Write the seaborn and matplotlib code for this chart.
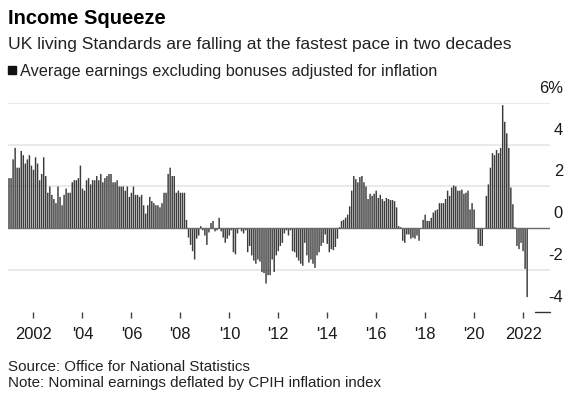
import numpy as np
import pandas as pd
import matplotlib
matplotlib.use("Agg")
import matplotlib.pyplot as plt
import matplotlib.transforms as mtransforms
from matplotlib.patches import Rectangle
import seaborn as sns

y2001 = [2.4, 2.4, 3.3, 3.85, 2.9, 2.9, 3.7, 3.5, 3.1, 3.3, 3.5, 3.0]
y2002 = [2.8, 3.4, 3.1, 2.3, 2.6, 3.4, 2.5, 1.7, 2.0, 1.6, 1.4, 1.2]
y2003 = [2.0, 1.5, 1.1, 1.6, 1.9, 1.7, 1.7, 2.2, 2.3, 2.3, 2.4, 3.0]
y2004 = [1.9, 1.8, 2.3, 2.4, 2.1, 2.3, 2.3, 2.5, 2.3, 2.6, 2.2, 2.4]
y2005 = [2.5, 2.6, 2.6, 2.2, 2.2, 2.3, 2.0, 2.0, 2.0, 1.8, 2.0, 1.5]
y2006 = [1.7, 2.0, 1.6, 1.6, 1.5, 1.6, 1.1, 0.7, 1.1, 1.5, 1.3, 1.2]
y2007 = [1.1, 1.1, 1.0, 1.2, 1.7, 1.7, 2.6, 2.9, 2.5, 2.5, 1.7, 1.8]
y2008 = [1.7, 1.7, 1.7, 0.4, -0.45, -0.8, -1.1, -1.5, -0.5, -0.35, 0.1, -0.1]
y2009 = [-0.35, -0.8, -0.2, 0.25, 0.35, -0.15, -0.1, 0.5, -0.15, -0.45, -0.7, -0.5]
y2010 = [-0.35, -0.1, -1.15, -1.25, -0.25, 0.0, -0.15, -0.25, -0.1, -1.15, -0.85, -1.3]
y2011 = [-1.55, -1.7, -1.5, -1.6, -2.1, -2.15, -2.65, -2.25, -2.25, -1.5, -2.1, -1.3]
y2012 = [-1.1, -0.85, -0.7, -0.25, -0.1, -0.35, -0.1, -1.1, -1.15, -1.4, -1.55, -1.7]
y2013 = [-1.8, -0.7, -1.3, -1.65, -1.5, -1.7, -1.9, -1.3, -1.15, -0.85, -0.7, -0.3]
y2014 = [-0.75, -1.15, -1.0, -1.05, -0.9, -0.5, 0.05, 0.35, 0.4, 0.5, 0.65, 1.05]
y2015 = [1.8, 2.5, 2.35, 2.2, 2.45, 2.5, 2.2, 2.0, 1.4, 1.65, 1.55, 1.65]
y2016 = [1.8, 1.45, 1.6, 1.4, 1.3, 1.45, 1.4, 1.35, 1.35, 1.3, 1.0, 0.1]
y2017 = [0.05, -0.6, -0.7, -0.3, -0.3, -0.5, -0.45, -0.5, -0.35, -0.6, 0.0, 0.4]
y2018 = [0.65, 0.35, 0.35, 0.5, 0.75, 0.85, 0.9, 1.2, 1.2, 1.2, 1.4, 1.8]
y2019 = [1.55, 1.95, 2.05, 2.0, 1.8, 1.8, 1.85, 1.65, 1.7, 1.8, 0.9, 1.2]
y2020 = [0.9, 0.0, -0.75, -0.85, -0.85, 0.0, 1.55, 2.1, 2.9, 3.6, 3.5, 3.75]
y2021 = [3.6, 3.85, 5.9, 5.1, 4.55, 3.85, 1.95, 1.15, 0.05, -0.85, -1.0, -0.7]
y2022 = [-1.1, -1.95, -3.3]

values = (y2001 + y2002 + y2003 + y2004 + y2005 + y2006 + y2007 + y2008 + y2009
          + y2010 + y2011 + y2012 + y2013 + y2014 + y2015 + y2016 + y2017 + y2018
          + y2019 + y2020 + y2021 + y2022)

tick_years = [2002, 2004, 2006, 2008, 2010, 2012, 2014, 2016, 2018, 2020, 2022]
tick_labels = ["2002", "'04", "'06", "'08", "'10", "'12", "'14", "'16", "'18", "'20", "2022"]
y_ticks = [6, 4, 2, 0, -2, -4]
y_labels = ["6%", "4", "2", "0", "-2", "-4"]

start_year = 2001
df = pd.DataFrame({"month": np.arange(len(values)), "value": values})

sns.set_theme(style="white")
plt.rcParams["font.family"] = ["Liberation Sans", "DejaVu Sans"]

W, H = 572, 396
fig = plt.figure(figsize=(W / 100, H / 100), dpi=100)
ax = fig.add_axes([8 / W, 1 - 311.7 / H, 542 / W, 208.7 / H])

for v in y_ticks:
    if v not in (0, -4):
        ax.axhline(v, color="#e4e4e4", lw=1.1, zorder=0)

sns.barplot(data=df, x="month", y="value", native_scale=True, width=0.72,
            color="#3c3c3c", saturation=1, edgecolor="none", linewidth=0,
            errorbar=None, ax=ax, zorder=2)
# no pixel snapping, so the thin bars blend evenly instead of beating
for p in ax.patches:
    p.set_snap(False)

ax.axhline(0, color="#6a6a6a", lw=1.0, zorder=3)
ax.axhline(-4, xmin=0.972, xmax=1.0, color="#333333", lw=1.0, clip_on=False)

ax.set_xlim(-0.5, 265.2)
ax.set_ylim(-4, 6)
for s in ax.spines.values():
    s.set_visible(False)
ax.set_xlabel("")
ax.set_ylabel("")

ax.set_xticks([(y - start_year) * 12 for y in tick_years])
ax.set_xticklabels(tick_labels, fontsize=11.9, color="#1a1a1a")
ax.tick_params(axis="x", direction="out", length=4, width=1, color="#444444",
               pad=7, bottom=True)
ax.set_yticks([])

# right-hand value labels, sitting above their gridlines
trans = mtransforms.blended_transform_factory(ax.transAxes, ax.transData)
trans = mtransforms.offset_copy(trans, fig=fig, x=13, y=10, units="dots")
for v, lab in zip(y_ticks, y_labels):
    ax.text(1.0, v, lab, transform=trans, ha="right", va="baseline",
            fontsize=11.9, color="#1a1a1a")

fig.text(8 / W, 1 - 24 / H, "Income Squeeze", fontsize=14.5, fontweight="bold",
         color="#000000", va="baseline")
fig.text(8 / W, 1 - 49 / H,
         "UK living Standards are falling at the fastest pace in two decades",
         fontsize=12.6, color="#222222", va="baseline")
fig.patches.append(Rectangle((8 / W, 1 - 74 / H), 8 / W, 8 / H,
                             transform=fig.transFigure, color="#111111"))
fig.text(20 / W, 1 - 76 / H,
         "Average earnings excluding bonuses adjusted for inflation",
         fontsize=11.7, color="#222222", va="baseline")
fig.text(8 / W, 1 - 371 / H, "Source: Office for National Statistics",
         fontsize=10.9, color="#222222", va="baseline")
fig.text(8 / W, 1 - 387 / H, "Note: Nominal earnings deflated by CPIH inflation index",
         fontsize=10.9, color="#222222", va="baseline")

fig.savefig("out.png", dpi=100)
